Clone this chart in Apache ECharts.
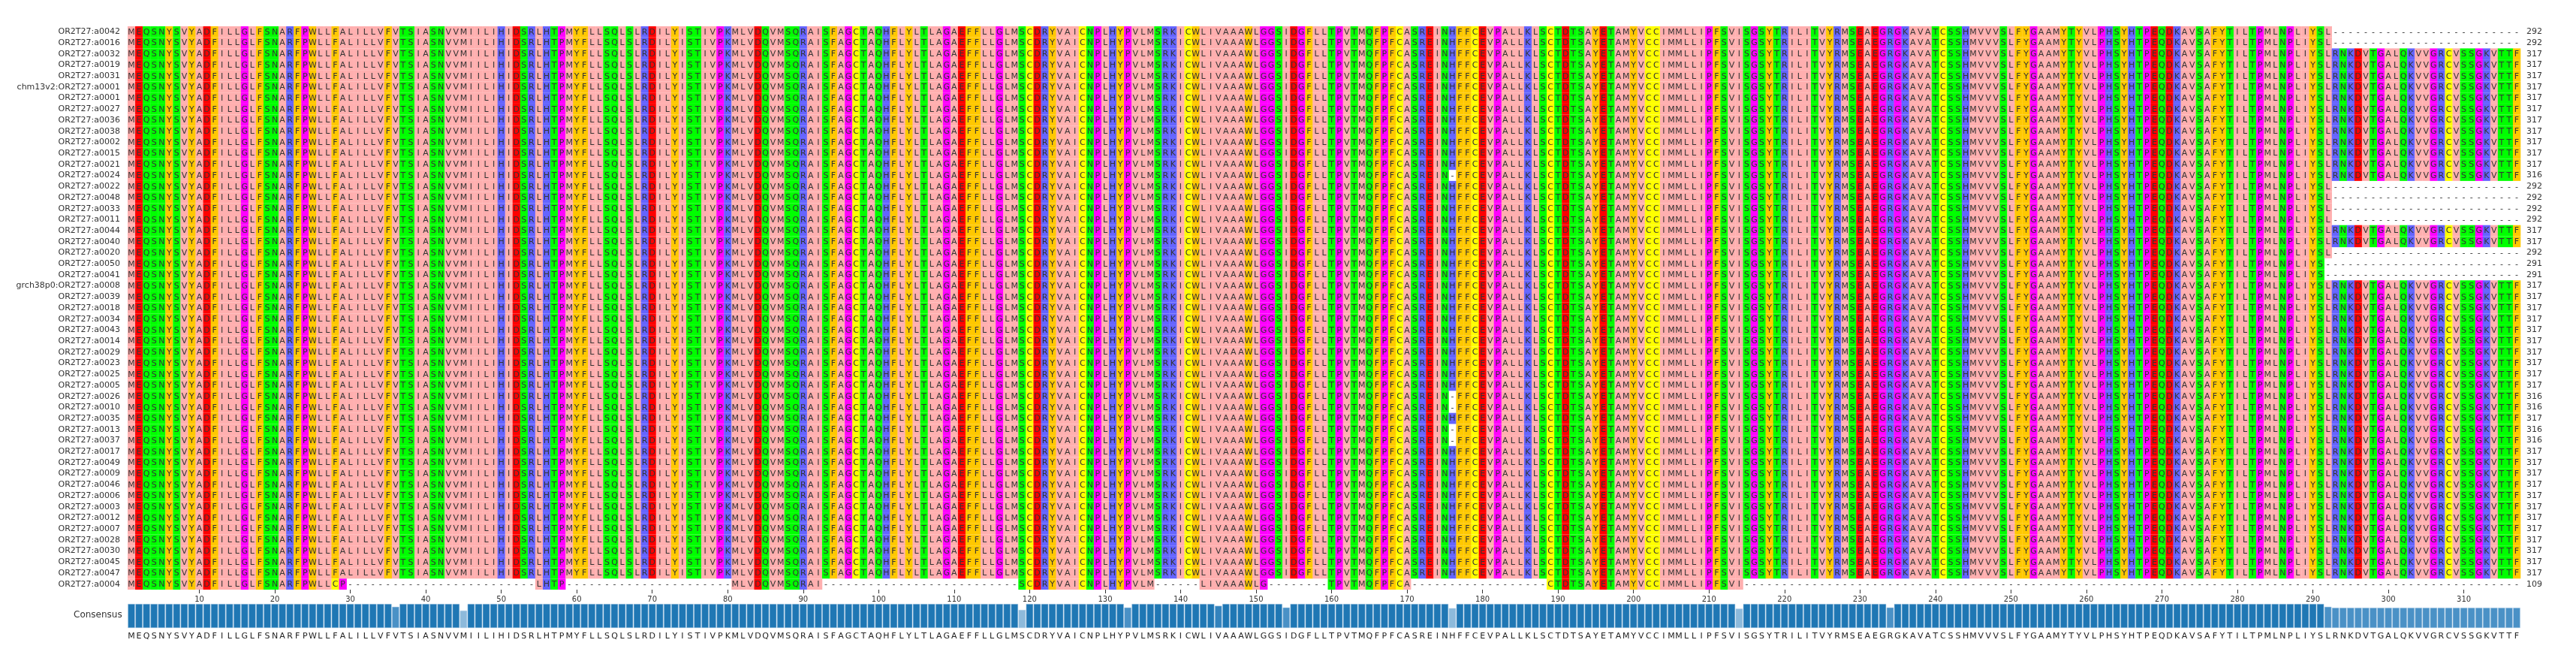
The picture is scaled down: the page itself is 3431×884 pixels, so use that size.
<!DOCTYPE html>
<html><head><meta charset="utf-8">
<script src="https://cdn.jsdelivr.net/npm/echarts@6/dist/echarts.min.js"></script>
<style>html,body{margin:0;background:#fff}#c{width:3431px;height:884px}</style>
</head><body><div id="c"></div>
<script>
const rowLabels = ["OR2T27:a0042","OR2T27:a0016","OR2T27:a0032","OR2T27:a0019","OR2T27:a0031","chm13v2:OR2T27:a0001","OR2T27:a0001","OR2T27:a0027","OR2T27:a0036","OR2T27:a0038","OR2T27:a0002","OR2T27:a0015","OR2T27:a0021","OR2T27:a0024","OR2T27:a0022","OR2T27:a0048","OR2T27:a0033","OR2T27:a0011","OR2T27:a0044","OR2T27:a0040","OR2T27:a0020","OR2T27:a0050","OR2T27:a0041","grch38p0:OR2T27:a0008","OR2T27:a0039","OR2T27:a0018","OR2T27:a0034","OR2T27:a0043","OR2T27:a0014","OR2T27:a0029","OR2T27:a0023","OR2T27:a0025","OR2T27:a0005","OR2T27:a0026","OR2T27:a0010","OR2T27:a0035","OR2T27:a0013","OR2T27:a0037","OR2T27:a0017","OR2T27:a0049","OR2T27:a0009","OR2T27:a0046","OR2T27:a0006","OR2T27:a0003","OR2T27:a0012","OR2T27:a0007","OR2T27:a0028","OR2T27:a0030","OR2T27:a0045","OR2T27:a0047","OR2T27:a0004"];
const rowLengths = [292,292,317,317,317,317,317,317,317,317,317,317,317,316,292,292,292,292,317,317,292,291,291,317,317,317,317,317,317,317,317,317,317,316,316,317,316,316,317,317,317,317,317,317,317,317,317,317,317,317,109];
const consensus = "MEQSNYSVYADFILLGLFSNARFPWLLFALILLVFVTSIASNVVMIILIHIDSRLHTPMYFLLSQLSLRDILYISTIVPKMLVDQVMSQRAISFAGCTAQHFLYLTLAGAEFFLLGLMSCDRYVAICNPLHYPVLMSRKICWLIVAAAWLGGSIDGFLLTPVTMQFPFCASREINHFFCEVPALLKLSCTDTSAYETAMYVCCIMMLLIPFSVISGSYTRILITVYRMSEAEGRGKAVATCSSHMVVVSLFYGAAMYTYVLPHSYHTPEQDKAVSAFYTILTPMLNPLIYSLRNKDVTGALQKVVGRCVSSGKVTTF";
const gapColumn316 = 176;
const a0004Fragments = [[1,29],[55,58],[81,92],[119,136],[143,151],[160,170],[189,214]];
const a0004Subs = {28:"C",29:"P"};
const conservationDips = [[36,0.88],[45,0.72],[119,0.75],[133,0.85],[145,0.92],[154,0.85],[176,0.82],[214,0.8],[234,0.85],[292,0.88]];
const conservationTail = [293,317,0.84];
const xTicks = [10,20,30,40,50,60,70,80,90,100,110,120,130,140,150,160,170,180,190,200,210,220,230,240,250,260,270,280,290,300,310];

const colorOf = c => {
  if ("AILMV".includes(c)) return "#ffafaf";
  if ("DE".includes(c)) return "#ff0000";
  if ("STNQ".includes(c)) return "#00ff00";
  if ("YFW".includes(c)) return "#ffc800";
  if ("GP".includes(c)) return "#ff00ff";
  if ("KRH".includes(c)) return "#6464ff";
  if (c === "C") return "#ffff00";
  return null;
};
const N = consensus.length;
const cells = [];
rowLabels.forEach((lab, r) => {
  const len = rowLengths[r];
  for (let col = 1; col <= N; col++) {
    let ch = consensus[col-1];
    if (lab.endsWith("a0004")) {
      const inF = a0004Fragments.some(f => col >= f[0] && col <= f[1]);
      if (!inF) ch = "-"; else if (a0004Subs[col]) ch = a0004Subs[col];
    } else if (len === 292 && col > 292) ch = "-";
    else if (len === 291 && col > 291) ch = "-";
    else if (len === 316 && col === gapColumn316) ch = "-";
    cells.push([col, r, ch]);
  }
});
const cons = [];
for (let col = 1; col <= N; col++) {
  let v = 1;
  conservationDips.forEach(d => { if (d[0] === col) v = d[1]; });
  if (col >= conservationTail[0] && col <= conservationTail[1]) v = conservationTail[2];
  cons.push(v);
}
const shade = v => v >= 0.99 ? "#1f77b4" : v >= 0.9 ? "#3383bd" : v >= 0.83 ? "#4a91c6" : "#8dbadb";

const chart = echarts.init(document.getElementById("c"));
chart.setOption({
  animation: false,
  grid: [
    {left: 170, right: 74, top: 35, height: 750},
    {left: 170, right: 74, top: 804, height: 32}
  ],
  xAxis: [
    {gridIndex: 0, type: "value", min: 0.5, max: N + 0.5, position: "bottom",
     axisLine: {show: false}, splitLine: {show: false},
     axisTick: {show: true, customValues: xTicks, length: 5, lineStyle: {color: "#333"}},
     axisLabel: {customValues: xTicks, fontSize: 10, color: "#333", margin: 8, fontFamily: "DejaVu Sans"}},
    {gridIndex: 1, type: "category", data: consensus.split(""), position: "bottom",
     axisLine: {show: false}, axisTick: {show: false},
     axisLabel: {interval: 0, fontSize: 11, color: "#222", margin: 6, fontFamily: "DejaVu Sans"}}
  ],
  yAxis: [
    {gridIndex: 0, type: "category", data: rowLabels, inverse: true,
     axisLine: {show: false}, axisTick: {show: false},
     axisLabel: {fontSize: 11, color: "#333", margin: 10, fontFamily: "DejaVu Sans"}},
    {gridIndex: 0, type: "category", data: rowLengths.map(String), inverse: true, position: "right",
     axisLine: {show: false}, axisTick: {show: false},
     axisLabel: {fontSize: 11, color: "#333", margin: 8, align: "left", fontFamily: "DejaVu Sans"}},
    {gridIndex: 1, type: "value", min: 0, max: 1,
     axisLine: {show: false}, axisTick: {show: false}, splitLine: {show: false},
     axisLabel: {show: false}}
  ],
  graphic: [{type: "text", left: 98, top: 813, style: {text: "Consensus", fontSize: 12, fill: "#333", fontFamily: "DejaVu Sans"}}],
  series: [
    {type: "custom", xAxisIndex: 0, yAxisIndex: 0, data: cells, clip: false,
     progressive: 0, large: false,
     renderItem: (params, api) => {
       const col = api.value(0), r = api.value(1), ch = cells[params.dataIndex][2];
       const p0 = api.coord([col - 0.5, r]);
       const p1 = api.coord([col + 0.5, r]);
       const h = api.size([0, 1])[1];
       const w = p1[0] - p0[0];
       const children = [];
       const fill = colorOf(ch);
       if (fill) children.push({type: "rect", shape: {x: p0[0], y: p0[1] - h/2, width: w + 0.3, height: h}, style: {fill: fill}});
       children.push({type: "text", style: {text: ch, x: p0[0] + w/2, y: p0[1] + 0.5, align: "center", verticalAlign: "middle", fontSize: 11, fill: "#333", fontFamily: "DejaVu Sans"}});
       return {type: "group", children};
     }},
    {type: "bar", xAxisIndex: 1, yAxisIndex: 2, barCategoryGap: "6%",
     data: cons.map(v => ({value: v, itemStyle: {color: shade(v)}})),
     itemStyle: {borderColor: "#a9c9e4", borderWidth: 0.5}}
  ]
});
</script></body></html>
